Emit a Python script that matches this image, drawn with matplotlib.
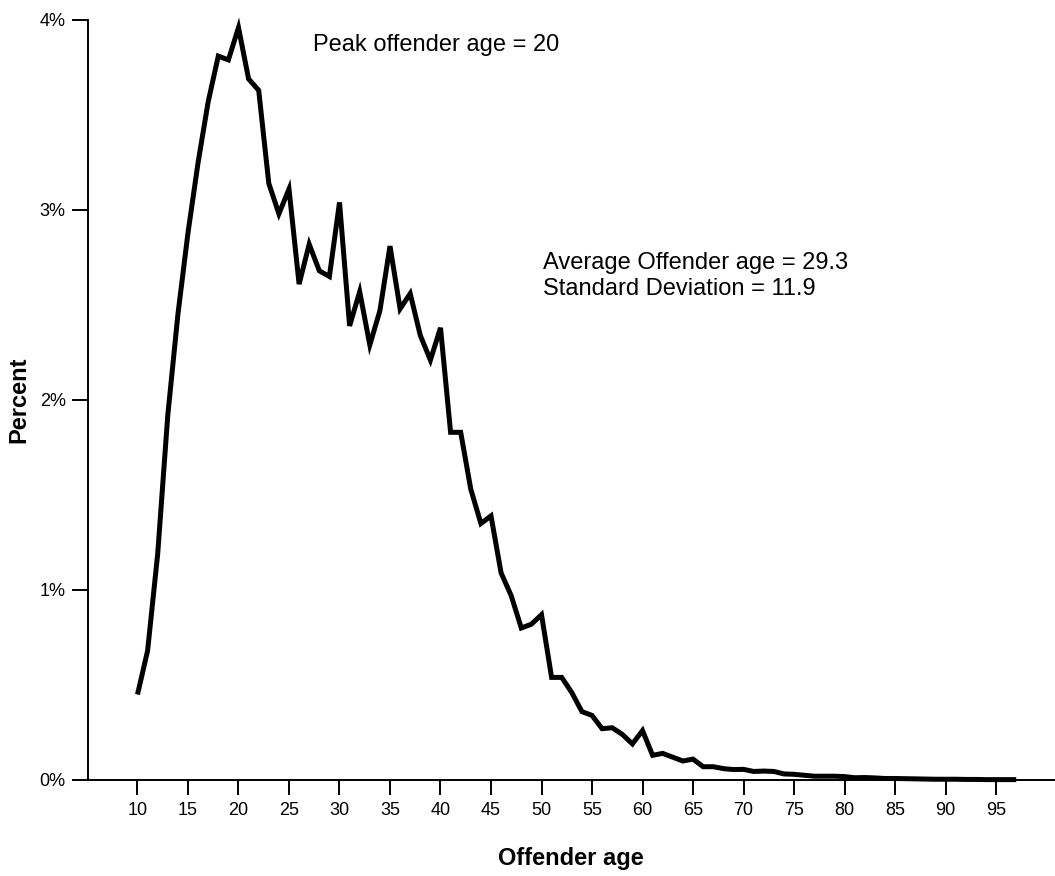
import matplotlib
matplotlib.use("Agg")
import matplotlib.pyplot as plt
from matplotlib.ticker import FuncFormatter

plt.rcParams['font.family'] = ['Liberation Sans', 'DejaVu Sans']

ages = list(range(10, 98))
percent = [0.45, 0.68, 1.19, 1.92, 2.45, 2.88, 3.25, 3.57, 3.81, 3.79,
           3.96, 3.69, 3.63, 3.14, 2.98, 3.11, 2.61, 2.82, 2.68, 2.65,
           3.04, 2.39, 2.57, 2.29, 2.47, 2.81, 2.48, 2.56, 2.34, 2.21,
           2.38, 1.83, 1.83, 1.53, 1.35, 1.39, 1.09, 0.97, 0.80, 0.82,
           0.87, 0.54, 0.54, 0.46, 0.36, 0.34, 0.27, 0.275, 0.24, 0.19,
           0.26, 0.13, 0.14, 0.12, 0.10, 0.11, 0.07, 0.07, 0.06, 0.055,
           0.056, 0.045, 0.047, 0.045, 0.032, 0.03, 0.025, 0.02, 0.02, 0.02,
           0.018, 0.012, 0.013, 0.011, 0.008, 0.008, 0.007, 0.006, 0.005, 0.004,
           0.004, 0.004, 0.003, 0.003, 0.002, 0.002, 0.002, 0.002]

x_ticks = list(range(10, 100, 5))
y_ticks = [0, 1, 2, 3, 4]

peak_text = "Peak offender age = 20"
avg_text = "Average Offender age = 29.3"
sd_text = "Standard Deviation = 11.9"
x_label = "Offender age"
y_label = "Percent"

W, H = 1055, 876
fig = plt.figure(figsize=(W / 100, H / 100), dpi=100)
ax = fig.add_axes([88 / W, (H - 780) / H, (W - 88) / W, 760 / H])

ax.plot(ages, percent, color='black', linewidth=3.6,
        solid_joinstyle='miter', solid_capstyle='butt', zorder=3, clip_on=False)

ax.set_xlim(5.1, 100.84)
ax.set_ylim(0, 4)
ax.set_xticks(x_ticks)
ax.set_yticks(y_ticks)
ax.yaxis.set_major_formatter(FuncFormatter(lambda v, p: f"{int(v)}%"))

for s in ['top', 'right']:
    ax.spines[s].set_visible(False)
for s in ['left', 'bottom']:
    ax.spines[s].set_linewidth(1.4)

ax.tick_params(axis='both', direction='out', width=1.4, labelsize=13, colors='black')
ax.tick_params(axis='y', length=11.5, pad=4.5)
ax.tick_params(axis='x', length=11, pad=4.5)

fig.text(571 / W, 1 - 858 / H, x_label, fontsize=17, fontweight='bold',
         ha='center', va='center')
fig.text(19 / W, 1 - 400 / H, y_label, fontsize=17, fontweight='bold',
         ha='center', va='center', rotation=90)

fig.text(313 / W, 1 - 45 / H, peak_text, fontsize=17, va='center', ha='left')
fig.text(543 / W, 1 - 263 / H, avg_text, fontsize=17, va='center', ha='left')
fig.text(543 / W, 1 - 289 / H, sd_text, fontsize=17, va='center', ha='left')

fig.savefig("out.png", dpi=100)
